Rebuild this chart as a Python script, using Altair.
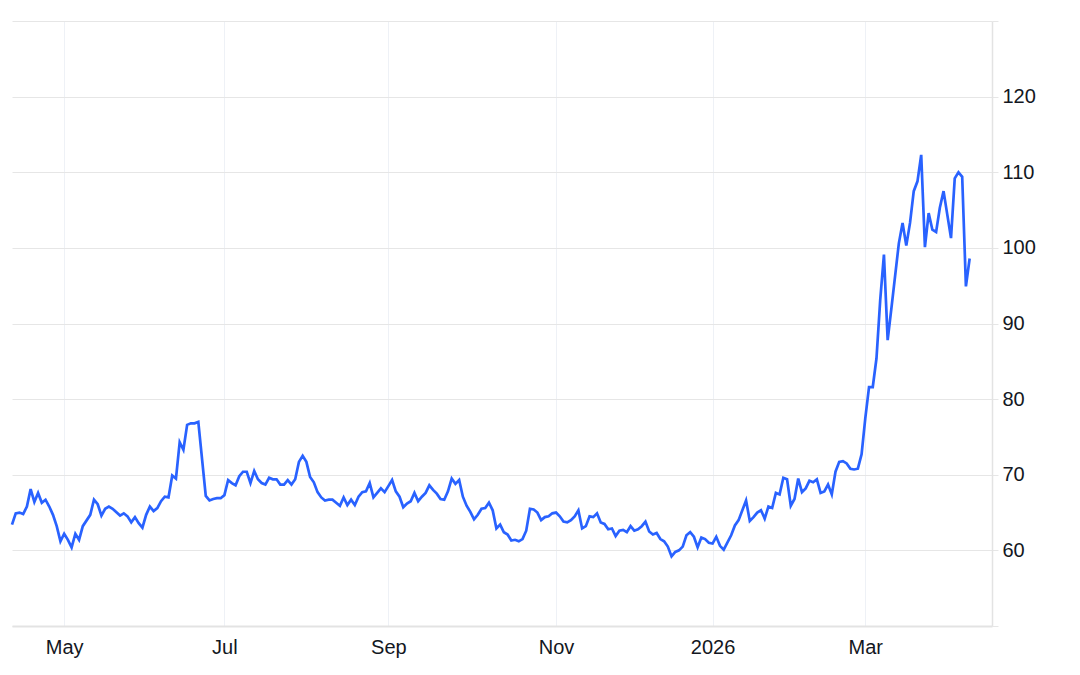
import altair as alt
import pandas as pd

# Trading calendar (ICE Brent style: weekdays minus exchange holidays);
# runs a few sessions past the last close, as the reference leaves room on the right.
holidays = ["2025-04-18", "2025-12-25", "2026-01-01", "2026-04-03"]
trading_days = pd.bdate_range("2025-04-10", "2026-04-20", freq="C", holidays=holidays)
dates = list(trading_days.strftime("%Y-%m-%d"))

# Daily closing price (None = day not separately visible)
price = [
    63.4, 64.9, 65.0, 64.8, 65.8, 68.1, 66.4, 67.6, 66.3, 66.7,
    65.8, 64.7, 63.2, 61.2, 62.2, 61.4, 60.4, 62.2, 61.4, 63.2,
    None, 64.7, 66.7, 66.1, 64.6, 65.5, 65.8, 65.5, None, 64.6,
    64.9, 64.5, 63.7, 64.4, 63.6, 63.0, 64.7, 65.8, 65.2, 65.6,
    66.5, 67.1, 67.0, 69.9, 69.5, 74.3, 73.3, 76.6, 76.8, 76.8,
    77.0, None, 67.2, 66.6, 66.8, 66.9, 66.9, 67.3, 69.3, 68.9,
    68.6, 69.8, 70.4, 70.4, 68.9, 70.5, 69.4, 68.9, 68.7, 69.6,
    69.4, 69.4, 68.7, 68.7, 69.3, 68.7, 69.4, 71.7, 72.5, 71.7,
    69.7, 69.0, 67.7, 67.0, 66.6, 66.7, 66.7, 66.3, 65.9, 67.0,
    66.0, 66.7, 66.0, 67.1, 67.7, 67.8, 68.9, 67.0, 67.6, 68.2,
    67.7, 68.5, 69.3, 67.8, 67.1, 65.7, 66.2, 66.5, 67.6, 66.5,
    67.1, 67.6, 68.6, 68.0, 67.5, 66.8, 66.7, 67.8, 69.5, 68.8,
    69.3, 67.1, 65.9, 65.1, 64.1, 64.7, 65.5, 65.6, 66.3, 65.3,
    62.9, 63.4, 62.4, 62.1, 61.3, 61.4, 61.2, 61.5, 62.6, 65.5,
    65.4, 65.0, 64.0, 64.4, 64.5, 64.9, 65.0, 64.5, 63.8, 63.7,
    64.0, 64.5, 65.3, 62.9, 63.2, 64.5, 64.4, 64.9, 63.7, 63.5,
    62.8, 62.9, 61.9, 62.6, 62.7, 62.4, 63.2, 62.6, 62.8, 63.2,
    63.8, 62.5, 62.1, 62.3, 61.5, 61.2, 60.5, 59.2, 59.8, 60.0,
    60.5, 62.0, 62.4, 61.8, 60.4, 61.7, 61.5, 61.0, 60.9, 61.8,
    60.6, 60.1, None, 62.0, 63.3, 64.0, 65.3, 66.6, 63.9, 64.4,
    65.0, 65.3, 64.2, 65.8, 65.6, 67.6, 67.4, 69.6, 69.4, 65.9,
    66.8, 69.5, 67.7, 68.2, 69.2, 69.0, 69.4, 67.6, 67.8, 68.7,
    67.4, 70.4, 71.7, 71.8, 71.5, 70.8, 70.7, 70.8, 72.7, 77.5,
    81.6, 81.6, 85.4, 93.1, 99.1, 87.8, 92.0, None, 100.6, 103.3,
    100.3, 103.3, 107.5, 108.8, 112.3, 100.1, 104.6, 102.4, 102.1, 105.3,
    107.5, 104.4, 101.3, 109.2, 110.0, 109.4, 94.9, 98.6,
]

tick_dates = ["2025-05-01", "2025-07-01", "2025-09-01", "2025-11-03", "2026-01-02", "2026-03-02"]
tick_labels = ["May", "Jul", "Sep", "Nov", "2026", "Mar"]
y_ticks = [50, 60, 70, 80, 90, 100, 110, 120, 130]

df = pd.DataFrame({"date": dates[: len(price)], "price": price}).dropna()

x_label_expr = " : ".join(
    f"datum.value == '{d}' ? '{l}'" for d, l in zip(tick_dates, tick_labels)
) + " : ''"

FONT = "Liberation Sans"
TEXT = "#131722"

chart = (
    alt.Chart(df)
    .mark_line(color="#2962FF", strokeWidth=2.7)
    .encode(
        x=alt.X(
            "date:O",
            scale=alt.Scale(type="point", domain=dates, padding=0, round=False),
            axis=alt.Axis(
                values=tick_dates,
                labelExpr=x_label_expr,
                title=None,
                grid=True,
                gridColor="#eef1f6",
                gridWidth=1,
                ticks=False,
                domain=True,
                domainColor="#e3e3e3",
                domainWidth=2,
                labelAngle=0,
                labelAlign="center",
                labelBaseline="top",
                labelPadding=11,
                labelFont=FONT,
                labelFontSize=20,
                labelColor=TEXT,
            ),
        ),
        y=alt.Y(
            "price:Q",
            scale=alt.Scale(domain=[50, 130], nice=False, zero=False),
            axis=alt.Axis(
                orient="right",
                values=y_ticks,
                labelExpr="datum.value == 50 || datum.value == 130 ? '' : datum.label",
                title=None,
                grid=True,
                gridColor="#e6e6e6",
                gridWidth=1,
                ticks=True,
                tickColor="#e6e6e6",
                tickSize=6,
                domain=True,
                domainColor="#e3e3e3",
                domainWidth=1.5,
                labelPadding=4,
                labelFont=FONT,
                labelFontSize=20,
                labelColor=TEXT,
            ),
        ),
    )
    .properties(
        width=980,
        height=605,
        autosize=alt.AutoSizeParams(type="none"),
        padding={"left": 4, "top": 13, "right": 80, "bottom": 40},
        background="white",
    )
    .configure_view(strokeWidth=0)
)

chart.save("out.html", embed_options={"renderer": "svg", "actions": False})
